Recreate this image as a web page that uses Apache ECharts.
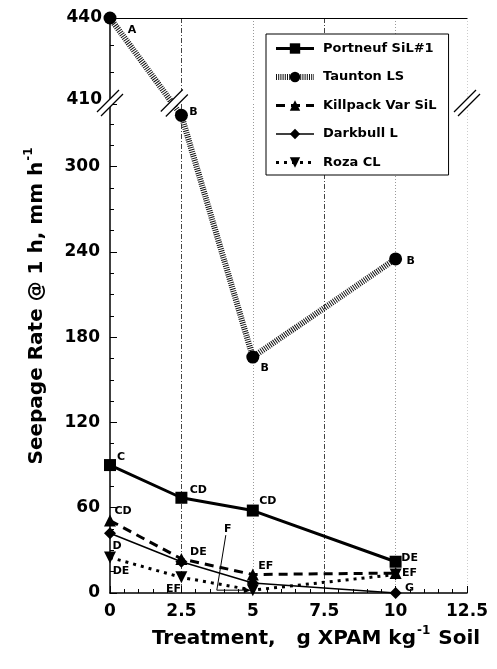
<!DOCTYPE html>
<html><head><meta charset="utf-8">
<script src="https://cdn.jsdelivr.net/npm/echarts@6/dist/echarts.min.js"></script>
<style>html,body{margin:0;padding:0;background:#fff}#c{width:497px;height:669px}</style>
</head><body><div id="c"></div>
<script>
// ---- data ----
const xValues = [0, 2.5, 5, 10];
const xTicks = [0, 2.5, 5, 7.5, 10, 12.5];
const lowerYTicks = [0, 60, 120, 180, 240, 300];
const upperYTicks = [410, 440];
const portneuf = [90, 67, 58, 22];
const taunton = [440, 336, 166, 235];
const killpack = [51, 24, 13, 14];
const darkbull = [42, 22, 7, 0];
const roza = [25, 11, 2, 13];
const portneufLetters = ['C', 'CD', 'CD', 'DE'];
const tauntonLetters = ['A', 'B', 'B', 'B'];
const killpackLetters = ['CD', '', 'EF', 'EF'];
const darkbullLetters = ['D', 'DE', '', 'G'];
const rozaLetters = ['DE', 'EF', 'F', ''];
const seriesNames = ['Portneuf SiL#1', 'Taunton LS', 'Killpack Var SiL', 'Darkbull L', 'Roza CL'];

// ---- style ----
const FF = '"DejaVu Sans", sans-serif';
const labelOffsets = {
  portneuf: [[11, -8], [17, -8], [15, -9], [14, -4]],
  taunton: [[22, 12], [12, -3], [12, 11], [15, 2]],
  killpack: [[13, -9], [0, 0], [13, -8], [14, 0]],
  darkbull: [[7, 13], [17, -10], [0, 0], [14, -5]],
  roza: [[11, 14], [-8, 12], [-25, -61], [0, 0]]
};
const lowerMin = lowerYTicks[0], lowerMax = 344;
const upperMin = upperYTicks[0], upperMax = upperYTicks[upperYTicks.length - 1];

function lab(text, off) {
  return { show: !!text, formatter: text || '', position: 'inside', offset: off,
    color: '#000', fontSize: 11, fontWeight: 'bold', fontFamily: FF };
}
function mk(vals, letters, offs) {
  return vals.map((v, i) => ({ value: [xValues[i], v], label: lab(letters[i], offs[i]) }));
}
function tauntonTop(vTop) {
  return [
    { value: [xValues[0], taunton[0]], label: lab(tauntonLetters[0], labelOffsets.taunton[0]) },
    { value: [xValues[1], vTop], symbol: 'none', label: { show: false } }
  ];
}
function tauntonBottom(vBot) {
  const arr = [{ value: [xValues[0], vBot], symbol: 'none', label: { show: false } }];
  for (let i = 1; i < xValues.length; i++) {
    arr.push({ value: [xValues[i], taunton[i]], label: lab(tauntonLetters[i], labelOffsets.taunton[i]) });
  }
  return arr;
}

const darkLines = ['rgba(0,0,0,0)', '#444', 'rgba(0,0,0,0)', '#444', 'rgba(0,0,0,0)', 'rgba(0,0,0,0)'];
const lightLines = ['rgba(0,0,0,0)', 'rgba(0,0,0,0)', '#999', 'rgba(0,0,0,0)', '#999', '#ccc'];
const tickLabel = { color: '#000', fontSize: 17, fontWeight: 'bold', fontFamily: FF };
const xInterval = xTicks[1] - xTicks[0];

function hiddenX(grid) {
  return { gridIndex: grid, type: 'value', min: xTicks[0], max: xTicks[xTicks.length - 1], interval: xInterval,
    axisLine: { show: false }, axisTick: { show: false }, axisLabel: { show: false },
    splitLine: { show: true, lineStyle: { color: lightLines, type: [1, 2], width: 1 } } };
}

const lineSeriesBase = { type: 'line', animation: false, clip: true, itemStyle: { color: '#000' } };
const tauntonLine = { color: '#111', width: 6, type: [1, 1.2] };

const option = {
  animation: false,
  backgroundColor: '#fff',
  grid: [
    { left: 110, right: 30, top: 18, height: 82 },
    { left: 110, right: 30, top: 104, bottom: 76 }
  ],
  xAxis: [
    { gridIndex: 1, type: 'value', min: xTicks[0], max: xTicks[xTicks.length - 1], interval: xInterval,
      axisLine: { lineStyle: { color: '#000', width: 1.5 } },
      axisTick: { inside: true, length: 7, lineStyle: { color: '#000', width: 1 } },
      minorTick: { show: true, splitNumber: 5, length: 4, lineStyle: { color: '#000', width: 1 } },
      axisLabel: Object.assign({ margin: 10 }, tickLabel),
      splitLine: { show: true, lineStyle: { color: darkLines, type: [5, 2, 1, 2], width: 1 } } },
    hiddenX(1),
    { gridIndex: 0, type: 'value', position: 'top', min: xTicks[0], max: xTicks[xTicks.length - 1], interval: xInterval,
      axisLine: { show: true, lineStyle: { color: '#000', width: 1 } },
      axisTick: { show: false }, axisLabel: { show: false },
      splitLine: { show: true, lineStyle: { color: darkLines, type: [5, 2, 1, 2], width: 1 } } },
    hiddenX(0)
  ],
  yAxis: [
    { gridIndex: 0, type: 'value', min: upperMin, max: upperMax, interval: upperMax - upperMin,
      axisLine: { show: true, lineStyle: { color: '#000', width: 1.5 } },
      axisTick: { show: true, inside: true, length: 6, lineStyle: { color: '#000' } },
      minorTick: { show: true, splitNumber: 3, length: 4, lineStyle: { color: '#000' } },
      axisLabel: Object.assign({ margin: 8 }, tickLabel),
      splitLine: { show: false } },
    { gridIndex: 1, type: 'value', min: lowerMin, max: lowerMax, interval: lowerYTicks[1] - lowerYTicks[0],
      axisLine: { show: true, lineStyle: { color: '#000', width: 1.5 } },
      axisTick: { show: true, inside: true, length: 7, lineStyle: { color: '#000' } },
      minorTick: { show: true, splitNumber: 4, length: 4, lineStyle: { color: '#000' } },
      axisLabel: Object.assign({ margin: 10, formatter: v => (lowerYTicks.indexOf(v) >= 0 ? String(v) : '') }, tickLabel),
      splitLine: { show: false } }
  ],
  legend: {
    data: seriesNames, orient: 'vertical', left: 266, top: 34, selectedMode: false,
    itemWidth: 38, itemHeight: 13, itemGap: 15.5, padding: [8, 12, 6, 7],
    borderColor: '#000', borderWidth: 1, backgroundColor: '#fff', z: 20,
    lineStyle: { width: 'inherit' },
    textStyle: { color: '#000', fontSize: 13, fontWeight: 'bold', fontFamily: FF, padding: [0, 0, 0, 4] }
  },
  series: [
    Object.assign({}, lineSeriesBase, { name: seriesNames[0], xAxisIndex: 0, yAxisIndex: 1, symbol: 'rect', symbolSize: 12,
      lineStyle: { color: '#000', width: 3 }, data: mk(portneuf, portneufLetters, labelOffsets.portneuf), z: 5 }),
    Object.assign({}, lineSeriesBase, { name: seriesNames[1], xAxisIndex: 2, yAxisIndex: 0, symbol: 'circle', symbolSize: 13,
      lineStyle: tauntonLine, data: tauntonTop(taunton[1]), z: 4 }),
    Object.assign({}, lineSeriesBase, { name: seriesNames[1], xAxisIndex: 0, yAxisIndex: 1, symbol: 'circle', symbolSize: 13,
      lineStyle: tauntonLine, data: tauntonBottom(taunton[0]), z: 4 }),
    Object.assign({}, lineSeriesBase, { name: seriesNames[2], xAxisIndex: 0, yAxisIndex: 1, symbol: 'triangle', symbolSize: 12,
      lineStyle: { color: '#000', width: 3, type: [9, 6] }, data: mk(killpack, killpackLetters, labelOffsets.killpack), z: 3 }),
    Object.assign({}, lineSeriesBase, { name: seriesNames[3], xAxisIndex: 0, yAxisIndex: 1, symbol: 'diamond', symbolSize: 12,
      lineStyle: { color: '#000', width: 1.5 }, data: mk(darkbull, darkbullLetters, labelOffsets.darkbull), z: 6 }),
    Object.assign({}, lineSeriesBase, { name: seriesNames[4], xAxisIndex: 0, yAxisIndex: 1, symbol: 'triangle', symbolRotate: 180, symbolSize: 12,
      lineStyle: { color: '#000', width: 3, type: [3, 5] }, data: mk(roza, rozaLetters, labelOffsets.roza), z: 3 })
  ]
};

const chart = echarts.init(document.getElementById('c'), null, { renderer: 'canvas' });
chart.setOption(option);

// Taunton line crosses the axis break: express each end in the other panel's scale
const pA = chart.convertToPixel({ seriesIndex: 1 }, [xValues[0], taunton[0]]);
const pB = chart.convertToPixel({ seriesIndex: 2 }, [xValues[1], taunton[1]]);
const vTop = chart.convertFromPixel({ seriesIndex: 1 }, pB)[1];
const vBot = chart.convertFromPixel({ seriesIndex: 2 }, pA)[1];

const yTopBottom = chart.convertToPixel({ yAxisIndex: 0 }, upperMin);
const yBotTop = chart.convertToPixel({ yAxisIndex: 1 }, lowerMax);
const yMid = (yTopBottom + yBotTop) / 2 + 1;
const xLeft = chart.convertToPixel({ xAxisIndex: 0 }, xTicks[0]);
const xRight = chart.convertToPixel({ xAxisIndex: 0 }, xTicks[xTicks.length - 1]);
const xCross = pA[0] + (yMid - pA[1]) * (pB[0] - pA[0]) / (pB[1] - pA[1]) + 2;

function breakMark(cx, cy, o) {
  const h = 11;
  return [
    { type: 'polygon', z: 50, shape: { points: [[cx - h - o, cy + h - o], [cx + h - o, cy - h - o], [cx + h + o, cy - h + o], [cx - h + o, cy + h + o]] },
      style: { fill: '#fff' } },
    { type: 'line', z: 51, shape: { x1: cx - h - o, y1: cy + h - o, x2: cx + h - o, y2: cy - h - o }, style: { stroke: '#000', lineWidth: 1.2 } },
    { type: 'line', z: 51, shape: { x1: cx - h + o, y1: cy + h + o, x2: cx + h + o, y2: cy - h + o }, style: { stroke: '#000', lineWidth: 1.2 } }
  ];
}

const pF = chart.convertToPixel({ seriesIndex: 5 }, [xValues[2], roza[2]]);
const graphics = [].concat(
  breakMark(xLeft, yMid, 2), breakMark(xCross, yMid, 2.5), breakMark(xRight, yMid, 2),
  [
    { type: 'polyline', z: 40, shape: { points: [[pF[0] - 27, pF[1] - 55], [pF[0] - 36, pF[1]], [pF[0] - 6, pF[1]]] },
      style: { stroke: '#000', lineWidth: 1, fill: null } },
    { type: 'polygon', z: 40, shape: { points: [[pF[0] - 2, pF[1]], [pF[0] - 9, pF[1] - 3], [pF[0] - 9, pF[1] + 3]] },
      style: { fill: '#000' } },
    { type: 'text', z: 60, x: 35, y: 306, rotation: Math.PI / 2,
      style: { text: '{n|Seepage Rate @ 1 h, mm h}{s|-1}', align: 'center', verticalAlign: 'middle',
        rich: { n: { fontSize: 20, fontWeight: 'bold', fontFamily: FF, fill: '#000', lineHeight: 24, verticalAlign: 'bottom' },
                s: { fontSize: 12, fontWeight: 'bold', fontFamily: FF, fill: '#000', lineHeight: 24, verticalAlign: 'top', padding: [0, 0, 10, 1] } } } },
    { type: 'text', z: 60, x: 316, y: 637,
      style: { text: '{n|Treatment,   g XPAM kg}{s|-1}{n| Soil}', align: 'center', verticalAlign: 'middle',
        rich: { n: { fontSize: 20, fontWeight: 'bold', fontFamily: FF, fill: '#000', lineHeight: 24, verticalAlign: 'bottom' },
                s: { fontSize: 12, fontWeight: 'bold', fontFamily: FF, fill: '#000', lineHeight: 24, verticalAlign: 'top', padding: [0, 1, 10, 1] } } } }
  ]
);

chart.setOption({
  series: [{}, { data: tauntonTop(vTop) }, { data: tauntonBottom(vBot) }, {}, {}, {}],
  graphic: { elements: graphics }
});
</script>
</body></html>
